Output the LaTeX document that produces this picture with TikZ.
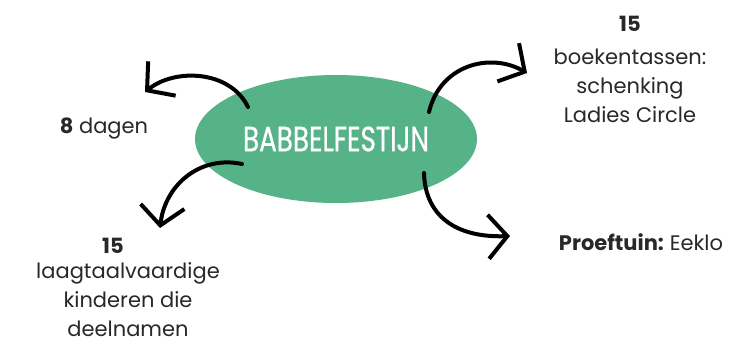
\documentclass[tikz,border=0pt]{standalone}
\usepackage{fontspec}
\setmainfont{Poppins}
\newfontfamily\titlefont{Poppins}[FakeStretch=0.75, FakeBold=0.6]
\usetikzlibrary{arrows.meta,shapes.geometric}
\definecolor{festgreen}{RGB}{85,179,135}
\definecolor{inkgray}{RGB}{40,40,40}
\tikzset{
  curl/.style={line width=4pt, line cap=round, -{Straight Barb[length=19pt,width=44pt]}},
  infotext/.style={font=\fontsize{21}{29}\selectfont, text=inkgray, align=center, inner sep=0pt}
}
\begin{document}
\begin{tikzpicture}[x=1pt,y=-1pt]
  \useasboundingbox (0,0) rectangle (735,349);

  % centrale ellips
  \node[ellipse, fill=festgreen, minimum width=282pt, minimum height=128pt, inner sep=0pt,
        text=white, font=\titlefont\fontsize{35}{35}\selectfont] (fest) at (336,139) {BABBELFESTIJN};

  % teksten
  \node[infotext, anchor=base] (dagen) at (104,133) {\textbf{8} dagen};
  \node[infotext, anchor=base] (tassennr) at (630,31) {\textbf{15}};
  \node[infotext, anchor=north] (tassen) at (630,49) {boekentassen:\\schenking\\Ladies Circle};
  \node[infotext, anchor=base] (kindnr) at (113,253) {\textbf{15}};
  \node[infotext, anchor=north] (kind) at (128,262) {laagtaalvaardige\\kinderen die\\deelnamen};
  \node[infotext, anchor=base] (proef) at (641,250) {\textbf{Proeftuin:}\hspace{6pt}Eeklo};

  % begin- en eindpunten van de pijlen
  \coordinate (s1) at (248,107); \coordinate (e1) at (145,92);
  \coordinate (s2) at (242,164); \coordinate (e2) at (160,228);
  \coordinate (s3) at (429,112); \coordinate (e3) at (527,73);
  \coordinate (s4) at (424,173); \coordinate (e4) at (510,236);

  % pijlen
  \draw[curl] (s1) .. controls (230,70) and (175,68) .. (e1);
  \draw[curl] (s2) .. controls (200,155) and (165,185) .. (e2);
  \draw[curl] (s3) .. controls (440,65) and (490,52) .. (e3);
  \draw[curl] (s4) .. controls (425,215) and (455,238) .. (e4);
\end{tikzpicture}
\end{document}
